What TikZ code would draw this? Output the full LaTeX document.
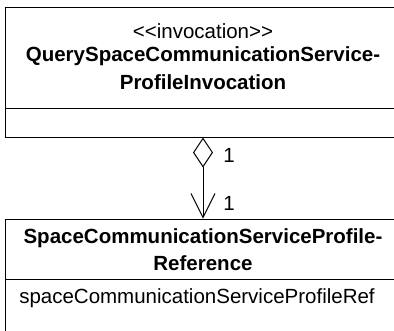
\documentclass[tikz,border=0pt]{standalone}
\usepackage{fontspec}
\setmainfont{Liberation Sans}[Ligatures=NoCommon]
\usetikzlibrary{arrows.meta}
\begin{document}
\begin{tikzpicture}[x=1pt,y=-1pt,
  classbox/.style={draw, line width=1pt, rectangle, inner sep=0pt},
  txt/.style={anchor=base, inner sep=0pt, font=\fontsize{20.5}{24}\selectfont},
  btxt/.style={txt, font=\fontsize{20.5}{24}\selectfont\bfseries},
  assoc/.style={line width=1pt, {Diamond[open, length=30pt, width=20pt, line width=1pt]}-{Straight Barb[length=24pt, width=24pt, line width=1pt]}}
]
\useasboundingbox (0,0) rectangle (394,330);
\clip (0,0) rectangle (394,330);
% top class
\node[classbox, minimum width=396pt, minimum height=130pt] (inv) at (203,72) {};
\coordinate (invL) at (5,108);
\coordinate (invR) at (401,108);
\draw[line width=1pt] (invL) -- (invR);
\node[txt] (st) at (203,38) {{<}{<}invocation{>}{>}};
\node[btxt] (n1) at (203,61) {QuerySpaceCommunicationService-};
\node[btxt] (n2) at (203,89) {ProfileInvocation};
% bottom class
\node[classbox, minimum width=396pt, minimum height=160pt] (ref) at (203,299) {};
\coordinate (refL) at (5,279);
\coordinate (refR) at (401,279);
\draw[line width=1pt] (refL) -- (refR);
\node[btxt] (m1) at (203,243) {SpaceCommunicationServiceProfile-};
\node[btxt] (m2) at (203,270) {Reference};
\node[txt] (a1) at (197,303) {spaceCommunicationServiceProfileRef};
% association
\draw[assoc] (inv.south) -- (ref.north);
\node[txt] (l1) at (229,162) {1};
\node[txt] (l2) at (229,210) {1};
\end{tikzpicture}
\end{document}
